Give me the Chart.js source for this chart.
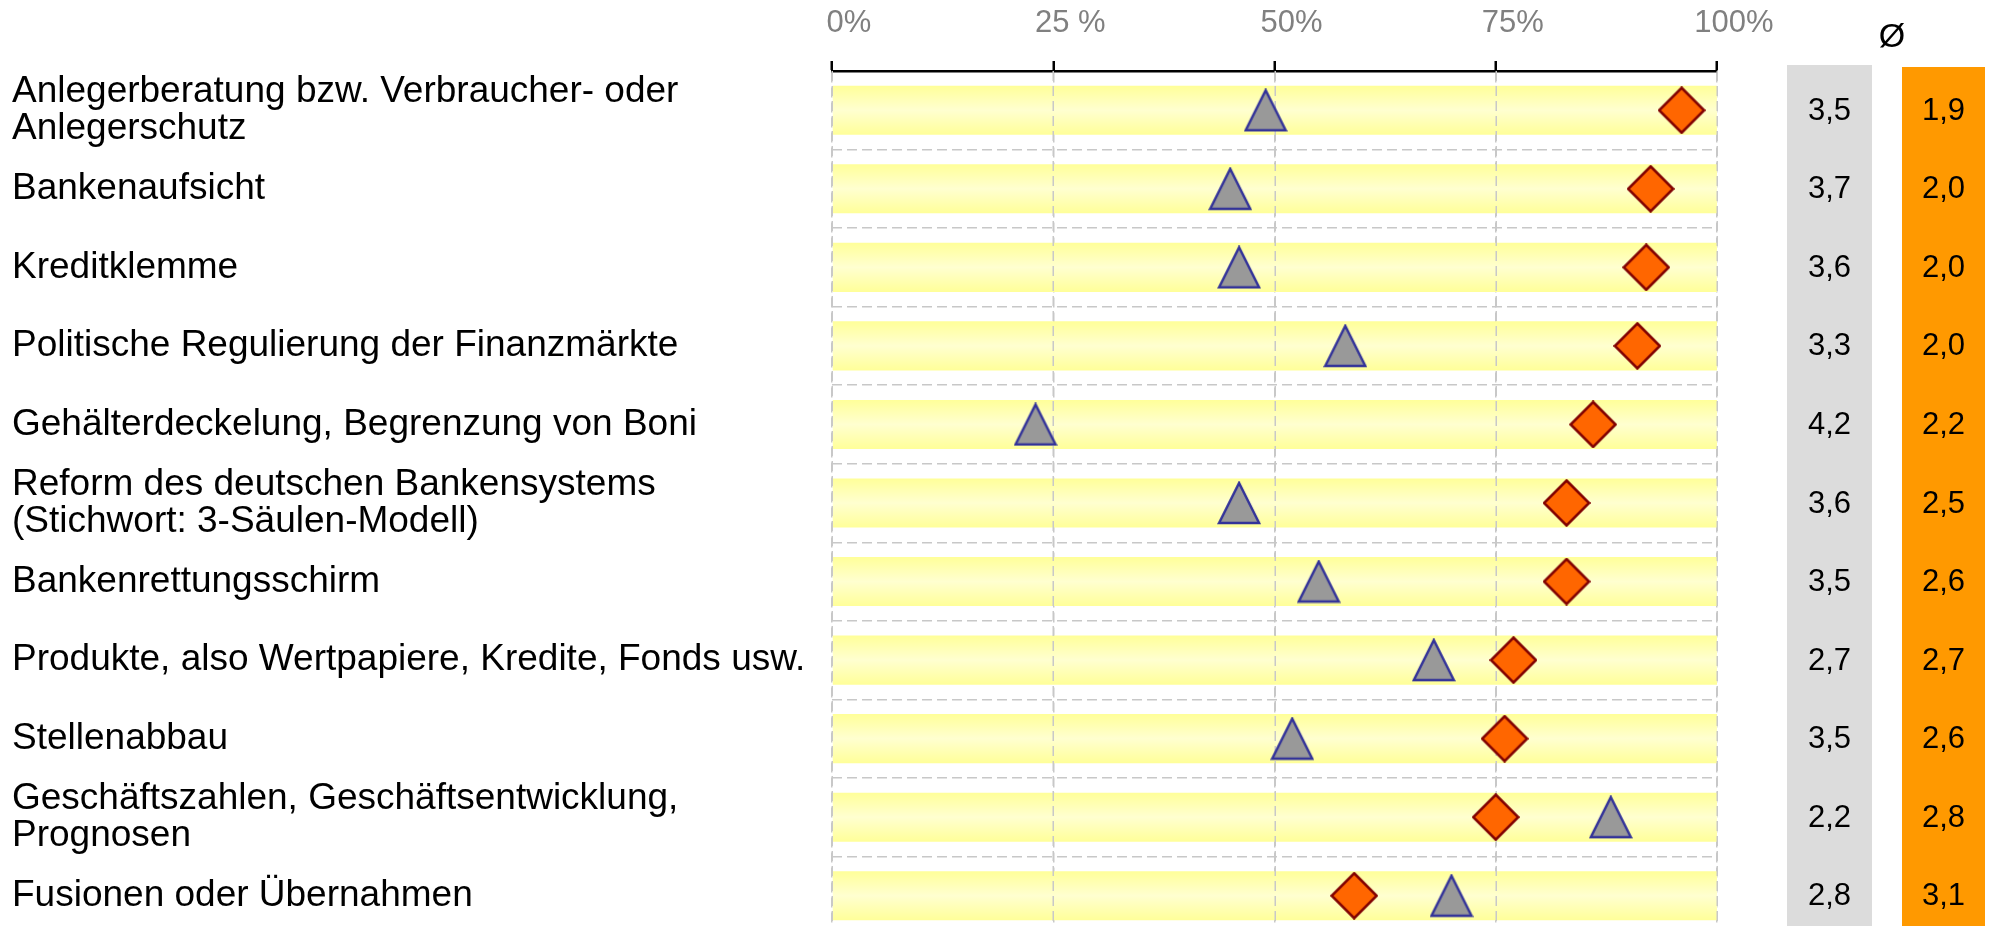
<!DOCTYPE html>
<html>
<head>
<meta charset="utf-8">
<script src="https://cdn.jsdelivr.net/npm/chart.js@4.4.0/dist/chart.umd.min.js"></script>
<style>
  html, body { margin: 0; padding: 0; background: #fff; overflow: hidden; }
  #wrap { width: 1993px; height: 926px; overflow: hidden; }
</style>
</head>
<body>
<div id="wrap"><canvas id="chart" width="1993" height="935"></canvas></div>
<script>
var categories = [
  ['Anlegerberatung bzw. Verbraucher- oder', 'Anlegerschutz'],
  'Bankenaufsicht',
  'Kreditklemme',
  'Politische Regulierung der Finanzmärkte',
  'Gehälterdeckelung, Begrenzung von Boni',
  ['Reform des deutschen Bankensystems', '(Stichwort: 3-Säulen-Modell)'],
  'Bankenrettungsschirm',
  'Produkte, also Wertpapiere, Kredite, Fonds usw.',
  'Stellenabbau',
  ['Geschäftszahlen, Geschäftsentwicklung,', 'Prognosen'],
  'Fusionen oder Übernahmen'
];
var triangleValues = [49, 45, 46, 58, 23, 46, 55, 68, 52, 88, 70];
var diamondValues = [96, 92.5, 92, 91, 86, 83, 83, 77, 76, 75, 59];
var grayAverages = ['3,5', '3,7', '3,6', '3,3', '4,2', '3,6', '3,5', '2,7', '3,5', '2,2', '2,8'];
var orangeAverages = ['1,9', '2,0', '2,0', '2,0', '2,2', '2,5', '2,6', '2,7', '2,6', '2,8', '3,1'];
var xTickLabels = ['0%', '25 %', '50%', '75%', '100%'];
var averageHeader = 'Ø';
var trackEnd = 100;

var fontFamily = '"Liberation Sans", Arial, Helvetica, sans-serif';
var gridColor = '#c8c8c8';
var barShare = 0.625;

// marker pictures
function makeTriangle() {
  var c = document.createElement('canvas');
  c.width = 44; c.height = 44;
  var g = c.getContext('2d');
  g.beginPath();
  g.moveTo(22, 2); g.lineTo(42, 42); g.lineTo(2, 42); g.closePath();
  g.fillStyle = '#999999'; g.fill();
  g.lineWidth = 2.5; g.strokeStyle = '#333399'; g.stroke();
  return c;
}
function makeDiamond() {
  var c = document.createElement('canvas');
  c.width = 48; c.height = 48;
  var g = c.getContext('2d');
  g.beginPath();
  g.moveTo(24, 1.5); g.lineTo(46.5, 24); g.lineTo(24, 46.5); g.lineTo(1.5, 24); g.closePath();
  g.fillStyle = '#ff6600'; g.fill();
  g.lineWidth = 2.5; g.strokeStyle = '#800000'; g.stroke();
  return c;
}

function trackFill(ctx) {
  var chart = ctx.chart, y = chart.scales.y;
  if (!y || ctx.dataIndex === undefined) return '#ffff99';
  var c = y.getPixelForValue(ctx.dataIndex);
  var h = Math.abs(y.getPixelForValue(1) - y.getPixelForValue(0)) * barShare / 2;
  if (!isFinite(c) || !isFinite(h) || h <= 0) return '#ffff99';
  var gr = chart.ctx.createLinearGradient(0, c - h, 0, c + h);
  gr.addColorStop(0, '#ffff99');
  gr.addColorStop(0.5, '#ffffd0');
  gr.addColorStop(1, '#ffff99');
  return gr;
}

// vertical dashed lines drawn again on top of the yellow tracks
var gridOverBars = {
  id: 'gridOverBars',
  afterDatasetDraw: function (chart, args) {
    if (args.index !== 0) return;
    var ctx = chart.ctx, area = chart.chartArea, x = chart.scales.x;
    ctx.save();
    ctx.strokeStyle = gridColor;
    ctx.lineWidth = 1.5;
    ctx.setLineDash([10, 5]);
    x.ticks.forEach(function (t) {
      var px = Math.round(x.getPixelForValue(t.value)) + 0.25;
      ctx.beginPath();
      ctx.moveTo(px, area.top);
      ctx.lineTo(px, area.bottom);
      ctx.stroke();
    });
    ctx.restore();
  }
};

// the two average columns on the right
var averageColumns = {
  id: 'averageColumns',
  afterDraw: function (chart) {
    var ctx = chart.ctx, y = chart.scales.y, h = chart.height;
    ctx.save();
    ctx.fillStyle = '#dcdcdc';
    ctx.fillRect(1787, 65, 85, h - 65);
    ctx.fillStyle = '#ff9900';
    ctx.fillRect(1902, 67, 83, h - 67);
    ctx.fillStyle = '#000';
    ctx.textAlign = 'center';
    ctx.textBaseline = 'middle';
    ctx.font = '31px ' + fontFamily;
    categories.forEach(function (c, i) {
      var py = y.getPixelForValue(i) + 1;
      ctx.fillText(grayAverages[i], 1829.5, py);
      ctx.fillText(orangeAverages[i], 1943.5, py);
    });
    ctx.font = '34px ' + fontFamily;
    ctx.fillText(averageHeader, 1892, 38);
    ctx.restore();
  }
};

new Chart(document.getElementById('chart'), {
  type: 'bar',
  data: {
    labels: categories,
    datasets: [{
      data: categories.map(function () { return trackEnd; }),
      backgroundColor: trackFill,
      borderWidth: 0,
      categoryPercentage: 1,
      barPercentage: barShare,
      order: 3
    }, {
      type: 'line',
      data: triangleValues,
      showLine: false,
      pointStyle: makeTriangle(),
      pointRadius: 20,
      order: 2
    }, {
      type: 'line',
      data: diamondValues,
      showLine: false,
      pointStyle: makeDiamond(),
      pointRadius: 22,
      order: 1
    }]
  },
  plugins: [gridOverBars, averageColumns],
  options: {
    indexAxis: 'y',
    responsive: false,
    animation: false,
    layout: { autoPadding: false, padding: { left: 12, right: 276, top: 5, bottom: 0 } },
    plugins: { legend: { display: false }, tooltip: { enabled: false } },
    scales: {
      x: {
        position: 'top',
        min: 0,
        max: 100,
        ticks: {
          stepSize: 25,
          padding: 19,
          labelOffset: 17,
          maxRotation: 0,
          autoSkip: false,
          color: '#808080',
          font: { size: 31, family: fontFamily },
          callback: function (v, i) { return xTickLabels[i]; }
        },
        grid: {
          color: gridColor,
          lineWidth: 1.5,
          tickColor: '#000',
          tickWidth: 2.5,
          tickLength: 10,
          tickBorderDash: []
        },
        border: { display: true, color: '#000', width: 2.5, dash: [10, 5] },
        afterFit: function (s) {
          s.height = 66;
          s.paddingLeft = 0;
          s.paddingRight = 0;
        }
      },
      y: {
        type: 'category',
        offset: true,
        ticks: {
          crossAlign: 'far',
          autoSkip: false,
          padding: 0,
          color: '#000',
          font: { size: 37, family: fontFamily, lineHeight: 1.0 }
        },
        grid: { color: gridColor, lineWidth: 1.5, drawTicks: false, offset: true },
        border: { display: false, dash: [10, 5] },
        afterFit: function (s) {
          s.width = 820;
          s.paddingTop = 0;
          s.paddingBottom = 0;
        }
      }
    }
  }
});
</script>
</body>
</html>
